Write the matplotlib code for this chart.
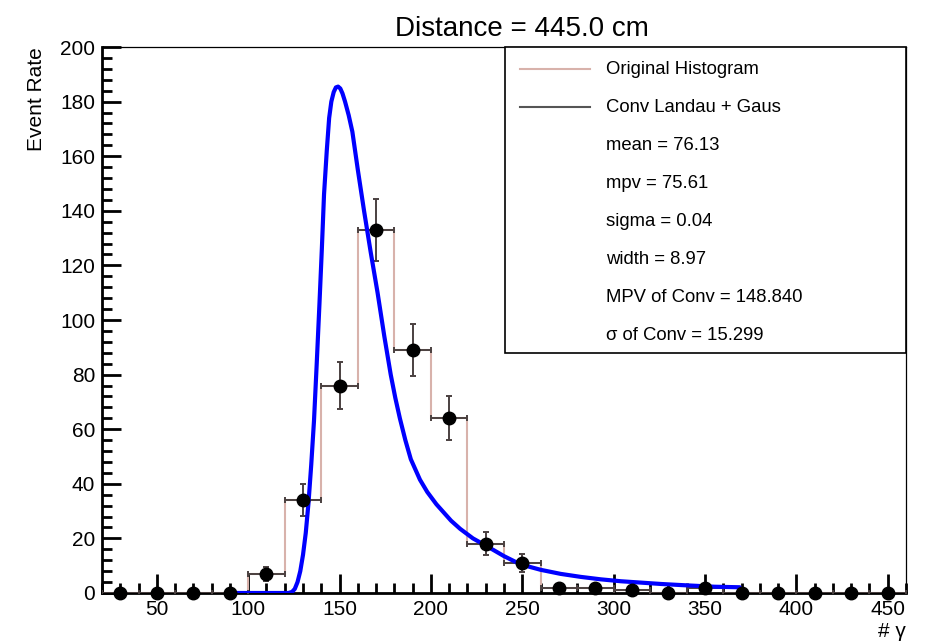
import numpy as np
import matplotlib.pyplot as plt
from matplotlib.ticker import MultipleLocator
from matplotlib.patches import Rectangle

plt.rcParams['font.family'] = ['Liberation Sans', 'DejaVu Sans']

# histogram bins (width 20, from 20 to 460)
bin_edges = [20, 40, 60, 80, 100, 120, 140, 160, 180, 200, 220, 240,
             260, 280, 300, 320, 340, 360, 380, 400, 420, 440, 460]
bin_centers = [30, 50, 70, 90, 110, 130, 150, 170, 190, 210, 230, 250,
               270, 290, 310, 330, 350, 370, 390, 410, 430, 450]
counts = [0, 0, 0, 0, 7, 34, 76, 133, 89, 64, 18, 11,
          2, 2, 1, 0, 2, 0, 0, 0, 0, 0]
count_err = [0, 0, 0, 0, 2.6, 5.8, 8.7, 11.5, 9.4, 8.0, 4.2, 3.3,
             1.4, 1.4, 1.0, 0, 1.4, 0, 0, 0, 0, 0]

# fitted convoluted Landau+Gaus curve
fit_x = [90, 122, 124, 125.5, 127, 128.5, 130, 131.5, 133, 134.5, 136, 137.5,
         139, 140.3, 141.5, 143, 144.3, 145.5, 146.8, 148, 149.2, 150.4,
         151.6, 153, 155, 157, 160, 163.4, 167, 170.8, 174.5, 178, 180.5,
         183, 186, 189, 194, 198, 203, 207, 211, 216, 223, 231, 240, 249,
         260, 271, 282, 293, 304, 315, 326, 337, 346, 355, 369]
fit_y = [0, 0, 0.4, 1.5, 4, 8, 14, 22, 33, 47, 63, 84,
         106, 126, 146, 162, 174, 180, 183.5, 185.2, 185.5, 184.8,
         183, 180, 175, 169, 155, 140, 125, 110, 94, 80, 71.5,
         64, 56, 49, 41.5, 37, 32.5, 29.5, 26.5, 23.5, 20, 17, 13.5, 10.5,
         8.5, 7, 5.9, 5, 4.3, 3.8, 3.3, 2.9, 2.6, 2.3, 2.1]

legend_labels = ["Original Histogram", "Conv Landau + Gaus"]
fit_info = ["mean = 76.13", "mpv = 75.61", "sigma = 0.04", "width = 8.97",
            "MPV of Conv = 148.840", "\u03c3 of Conv = 15.299"]

hist_color = '#d8b2ab'

fig = plt.figure(figsize=(9.3, 6.44), dpi=100)
ax = fig.add_axes([0.1097, 0.0792, 0.8645, 0.8478])

# histogram outline
ax.stairs(counts, bin_edges, color=hist_color, lw=1.5, zorder=2)

# error bars
ax.errorbar(bin_centers, counts, yerr=count_err, xerr=10, fmt='none',
            ecolor='#4a4040', elinewidth=1.4, capsize=2.5, capthick=1.4,
            zorder=3)

# fit curve
ax.plot(fit_x, fit_y, color='#0000ff', lw=3, zorder=4,
        solid_capstyle='round', solid_joinstyle='round')

# data points
ax.plot(bin_centers, counts, 'o', color='black', markersize=9, zorder=5,
        clip_on=False)

ax.set_xlim(20, 460)
ax.set_ylim(0, 200)
ax.xaxis.set_major_locator(MultipleLocator(50))
ax.xaxis.set_minor_locator(MultipleLocator(10))
ax.yaxis.set_major_locator(MultipleLocator(20))
ax.yaxis.set_minor_locator(MultipleLocator(4))
ax.tick_params(which='both', direction='in', labelsize=15, width=2,
               color='black', top=False, right=False)
ax.tick_params(which='major', length=14, pad=5)
ax.tick_params(which='minor', length=7.5)
for s in ['left', 'bottom']:
    ax.spines[s].set_linewidth(2)
for s in ['top', 'right']:
    ax.spines[s].set_linewidth(0.9)

ax.set_title("Distance = 445.0 cm", fontsize=20, pad=8, x=0.522)
ax.set_ylabel("Event Rate", fontsize=15, loc='top', labelpad=10)
ax.set_xlabel("# \u03b3", fontsize=15, loc='right', labelpad=2)

# legend box, ROOT style
lx0, ly0 = 0.501, 0.44
ax.add_patch(Rectangle((lx0, ly0), 1 - lx0, 1 - ly0, transform=ax.transAxes,
                       facecolor='white', edgecolor='black', lw=1.2,
                       zorder=6, clip_on=False))
row_h = 38 / 546.0
y = 1 - 22 / 546.0
ax.plot([0.52, 0.607], [y, y], transform=ax.transAxes, color=hist_color,
        lw=1.5, zorder=7)
ax.text(0.627, y, legend_labels[0], transform=ax.transAxes, fontsize=13.3,
        va='center', ha='left', zorder=7)
y -= row_h
ax.plot([0.52, 0.607], [y, y], transform=ax.transAxes, color='#555555',
        lw=1.5, zorder=7)
ax.text(0.627, y, legend_labels[1], transform=ax.transAxes, fontsize=13.3,
        va='center', ha='left', zorder=7)
for t in fit_info:
    y -= row_h
    ax.text(0.627, y, t, transform=ax.transAxes, fontsize=13.3,
            va='center', ha='left', zorder=7)

fig.savefig('out.png', dpi=100)
